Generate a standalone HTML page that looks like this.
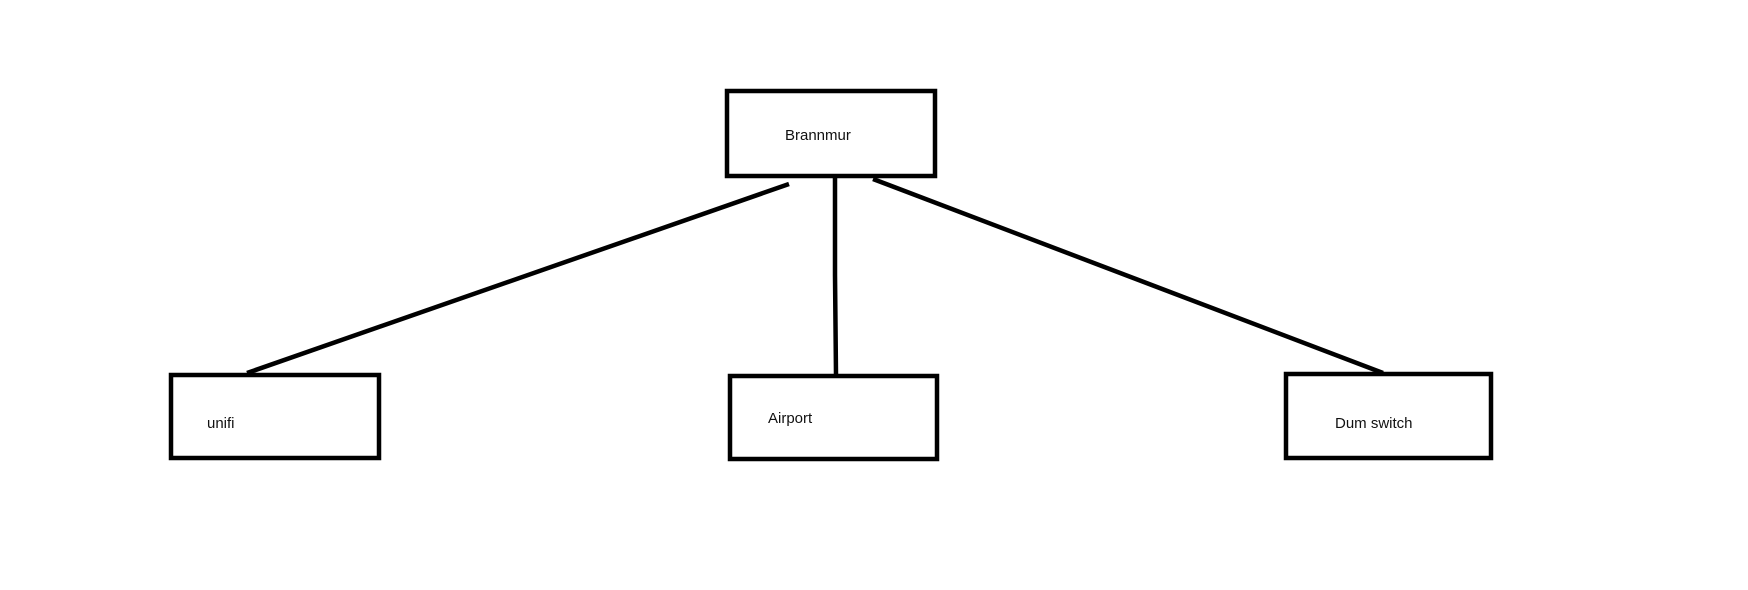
<!DOCTYPE html>
<html><head><style>
html,body{margin:0;padding:0;background:#fff;}
svg{display:block;}
text{font-family:"Liberation Sans",sans-serif;font-size:15px;fill:#111;}
</style></head><body>
<svg width="1748" height="590" viewBox="0 0 1748 590">
<rect width="1748" height="590" fill="#fff"/>
<g fill="none" stroke="#000" stroke-width="4.5">
<rect x="727" y="91" width="208" height="85"/>
<rect x="171" y="375" width="208" height="83"/>
<rect x="730" y="376" width="207" height="83"/>
<rect x="1286" y="374" width="205" height="84"/>
<line x1="789" y1="184" x2="247" y2="373"/>
<polyline points="835,178 835,275 836,375"/>
<line x1="873" y1="179" x2="1383" y2="373"/>
</g>
<text x="785" y="140">Brannmur</text>
<text x="207" y="428">unifi</text>
<text x="768" y="423">Airport</text>
<text x="1335" y="428">Dum switch</text>
</svg>
</body></html>
